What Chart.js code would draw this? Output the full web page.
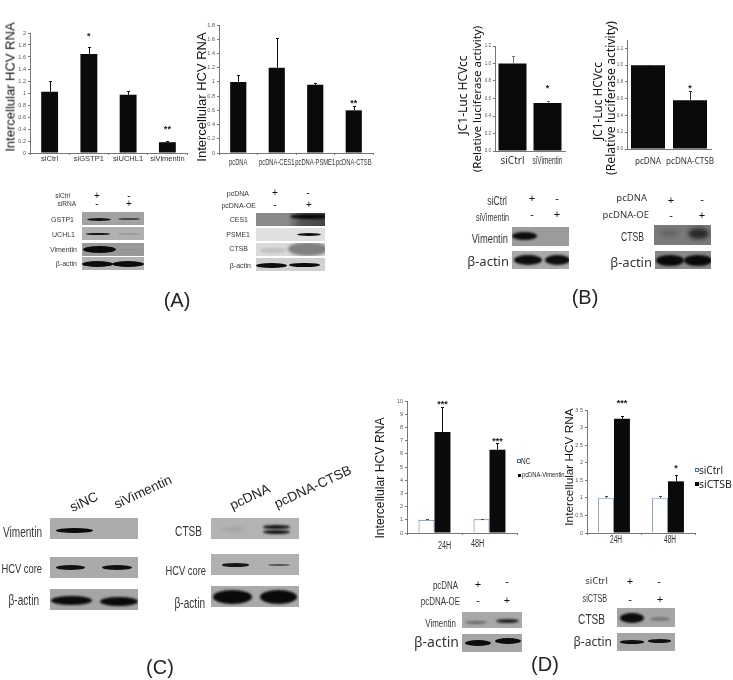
<!DOCTYPE html>
<html><head><meta charset="utf-8">
<script src="https://cdn.jsdelivr.net/npm/chart.js@4"></script>
<style>
html,body{margin:0;padding:0;background:#fff}
#stage{position:relative;width:733px;height:680px;overflow:hidden;background:#fff;filter:blur(.35px)}
#stage canvas{position:absolute}
.t{position:absolute;white-space:nowrap;color:#222;line-height:1;opacity:.99}
.p{position:absolute;overflow:hidden}
.b{position:absolute;border-radius:50%}
.k{position:absolute}
</style></head><body><div id="stage"></div>
<script>
// ---------- data ----------
const a1Cats=["siCtrl","siGSTP1","siUCHL1","siVimentin"];
const a1Vals=[1.02,1.65,0.97,0.18];
const a1Err=[1.2,1.77,1.03,0.2];
const a1Stars=[null,1.97,null,0.42];
const a1Marks=["","*","","**"];
const a1Ticks=[0,0.2,0.4,0.6,0.8,1,1.2,1.4,1.6,1.8,2];

const a2Cats=["pcDNA","pcDNA-CES1","pcDNA-PSME1","pcDNA-CTSB"];
const a2Vals=[1.0,1.2,0.96,0.6];
const a2Err=[1.1,1.62,0.98,0.66];
const a2Stars=[null,null,null,0.72];
const a2Marks=["","","","**"];
const a2Ticks=[0,0.2,0.4,0.6,0.8,1,1.2,1.4,1.6,1.8];

const b1Cats=["siCtrl","siVimentin"];
const b1Vals=[1.0,0.55];
const b1Err=[1.09,0.57];
const b1Stars=[null,0.74];
const b1Marks=["","*"];
const b1Ticks=[0,0.2,0.4,0.6,0.8,1.0,1.2];

const b2Cats=["pcDNA","pcDNA-CTSB"];
const b2Vals=[1.0,0.58];
const b2Err=[1.0,0.695];
const b2Stars=[null,0.75];
const b2Marks=["","*"];
const b2Ticks=[0,0.2,0.4,0.6,0.8,1.0,1.2];

const d1Cats=["24H","48H"];
const d1Series=["NC","pcDNA-Vimentin"];
const d1Nc=[1.0,1.05];
const d1NcErr=[1.08,1.08];
const d1Vim=[7.65,6.3];
const d1VimErr=[9.55,6.85];
const d1Stars=[9.9,7.05];
const d1Marks=["***","***"];
const d1Ticks=[0,1,2,3,4,5,6,7,8,9,10];

const d2Cats=["24H","48H"];
const d2Series=["siCtrl","siCTSB"];
const d2Ctrl=[1.0,1.0];
const d2CtrlErr=[1.04,1.04];
const d2Ctsb=[3.25,1.47];
const d2CtsbErr=[3.32,1.65];
const d2Stars=[3.73,1.9];
const d2Marks=["***","*"];
const d2Ticks=[0,0.5,1,1.5,2,2.5,3,3.5];

// ---------- helpers ----------
const stage=document.getElementById('stage');
const SANS='"Liberation Sans",Arial,sans-serif', NARROW='narrow', NOTO='"Noto Sans",sans-serif';
function text(s,x,y,o={}){
  const e=document.createElement('div');e.className='t';e.textContent=s;
  const nar=o.font===NARROW;
  e.style.fontFamily=nar?SANS:(o.font||SANS);e.style.fontSize=(o.size||8)+'px';
  if(o.color)e.style.color=o.color;
  e.style.left=x+'px';e.style.top=y+'px';
  const tx=o.anchor==='r'?'-100%':o.anchor==='l'?'0':'-50%';
  e.style.transformOrigin=(o.anchor==='r'?'100%':o.anchor==='l'?'0':'50%')+' 50%';
  e.style.transform=`translate(${tx},-50%)`+(o.rot?` rotate(${o.rot}deg)`:'')+(nar?` scaleX(${o.sx||0.72})`:'');
  stage.appendChild(e);return e;
}
function vtitle(s,cx,cy,size,font){return text(s,cx,cy,{size,font,rot:-90,color:'#111'});}
function panel(x,y,w,h,bg,bands){
  const p=document.createElement('div');p.className='p';
  Object.assign(p.style,{left:x+'px',top:y+'px',width:w+'px',height:h+'px',background:bg});
  (bands||[]).forEach(b=>{
    const [bx,cy,bw,bh,col,bl]=b;
    const d=document.createElement('div');d.className='b';
    Object.assign(d.style,{left:(bx-x)+'px',top:(cy-bh/2-y)+'px',width:bw+'px',height:bh+'px',background:col,filter:`blur(${bl==null?0.8:bl}px)`});
    p.appendChild(d);
  });
  stage.appendChild(p);
}
const overlayPlugin={id:'overlay',afterDatasetsDraw(c){
  const ctx=c.ctx,y=c.scales.y,x=c.scales.x;ctx.save();
  c.data.datasets.forEach((ds,i)=>{
    const m=c.getDatasetMeta(i);
    (ds.err||[]).forEach((v,j)=>{
      if(v==null)return;const b=m.data[j],top=y.getPixelForValue(v),base=y.getPixelForValue(ds.data[j]);
      ctx.strokeStyle=ds.errColor||'#111';ctx.lineWidth=1;
      const px=Math.round(b.x)+.5,py=Math.round(top)+.5;
      ctx.beginPath();ctx.moveTo(px,base);ctx.lineTo(px,py);ctx.moveTo(px-1.5,py);ctx.lineTo(px+1.5,py);ctx.stroke();
    });
    (ds.stars||[]).forEach((v,j)=>{
      if(v==null)return;const b=m.data[j];
      ctx.fillStyle='#222';ctx.font='bold 9px '+SANS;ctx.textAlign='center';ctx.textBaseline='middle';
      ctx.fillText(ds.marks[j],b.x,y.getPixelForValue(v)+2);
    });
  });
  // category labels, at the scale's tick positions (horizontally condensed as in the figure)
  const L=c.options.plugins.overlay.lab;
  c.data.labels.forEach((s,i)=>{
    const l=Array.isArray(L)?L[i]:L;
    ctx.save();
    ctx.translate(x.getPixelForTick(i)+(l.dx||0),x.bottom-x.height+(l.dy||9));
    ctx.scale(l.sx||1,1);
    ctx.font=(l.size||8)+'px '+(l.font||SANS);ctx.fillStyle='#333';ctx.textAlign='center';ctx.textBaseline='middle';
    ctx.fillText(s,0,0);ctx.restore();
  });
  ctx.restore();
}};
function chart(o){
  const padL=34,padT=14,padR=6,xH=o.xH||22;
  const cv=document.createElement('canvas');
  const W=o.right-o.x+padL+padR,H=o.bottom-o.top+padT+xH;
  cv.style.left=(o.x-padL)+'px';cv.style.top=(o.top-padT)+'px';
  cv.style.width=W+'px';cv.style.height=H+'px';cv.width=W;cv.height=H;
  stage.appendChild(cv);
  const ax=o.axisColor||'#777';
  new Chart(cv,{type:'bar',plugins:[overlayPlugin],
    data:{labels:o.cats,datasets:o.datasets},
    options:{responsive:false,animation:false,devicePixelRatio:1,
      layout:{padding:{top:padT,right:padR,left:0,bottom:0}},
      plugins:{legend:{display:false},tooltip:{enabled:false},overlay:{lab:o.lab}},
      scales:{
        x:{afterFit(s){s.height=xH;},
          grid:{display:true,drawOnChartArea:false,drawTicks:o.xTick!==false,tickLength:2,color:ax},
          border:{color:ax,width:1},
          ticks:{display:false}},
        y:{min:0,max:o.max,afterFit(s){s.width=padL;},
          afterBuildTicks(s){s.ticks=o.ticks.map(v=>({value:v}));},
          grid:{display:true,drawOnChartArea:false,tickLength:2,color:ax},
          border:{color:ax,width:1},
          ticks:{color:o.yColor||'#555',padding:2,font:{family:SANS,size:o.ySize||5.5},
            callback:v=>o.digits?Number(v).toFixed(o.digits):String(v)}}
      }}});
}
const blk='#0a0a0a';
function single(o,vals,err,stars,marks,bp,errColor){
  o.datasets=[{data:vals,err,stars,marks,backgroundColor:blk,barPercentage:bp,categoryPercentage:1,errColor}];
  chart(o);
}

// ---------- charts ----------
single({x:30,right:187,top:33,bottom:153,max:2,cats:a1Cats,ticks:a1Ticks,lab:{size:7.5,dy:6}},a1Vals,a1Err,a1Stars,a1Marks,0.43);
single({x:219,right:373,top:25,bottom:153,max:1.8,cats:a2Cats,ticks:a2Ticks,lab:{size:8.5,sx:.68,dy:10}},a2Vals,a2Err,a2Stars,a2Marks,0.42);
single({x:495,right:565,top:46,bottom:151,max:1.2,cats:b1Cats,ticks:b1Ticks,digits:1,ySize:4.5,xTick:false,
  lab:[{font:NOTO,size:10,dy:10},{size:10,sx:.65,dy:10}]},b1Vals,b1Err,b1Stars,b1Marks,0.8,'#777');
single({x:627,right:711,top:40,bottom:149,max:1.3,cats:b2Cats,ticks:b2Ticks,digits:1,ySize:4.5,xTick:false,
  lab:{font:NOTO,size:9.5,sx:.85,dy:12}},b2Vals,b2Err,b2Stars,b2Marks,0.81,'#333');

chart({x:407,right:517,top:401,bottom:533,max:10,cats:d1Cats,ticks:d1Ticks,ySize:5.5,
  lab:[{size:10,sx:.72,dx:10,dy:13},{size:10,sx:.72,dx:-12,dy:11}],
  datasets:[
   {label:d1Series[0],data:d1Nc,err:d1NcErr,errColor:'#355',backgroundColor:'#fff',borderColor:'#4f72a6',borderWidth:1,barPercentage:1,categoryPercentage:0.58},
   {label:d1Series[1],data:d1Vim,err:d1VimErr,stars:d1Stars,marks:d1Marks,backgroundColor:blk,barPercentage:1,categoryPercentage:0.58}]});
chart({x:587,right:695,top:410,bottom:533,max:3.5,cats:d2Cats,ticks:d2Ticks,ySize:5.5,
  lab:[{size:10,sx:.65,dx:2,dy:7},{size:10,sx:.65,dx:2,dy:7}],
  datasets:[
   {label:d2Series[0],data:d2Ctrl,err:d2CtrlErr,errColor:'#355',backgroundColor:'#fff',borderColor:'#7f9cc4',borderWidth:1,barPercentage:1,categoryPercentage:0.59},
   {label:d2Series[1],data:d2Ctsb,err:d2CtsbErr,stars:d2Stars,marks:d2Marks,backgroundColor:blk,barPercentage:1,categoryPercentage:0.59}]});

// legends
function swatch(x,y,s,bg,bd){const e=document.createElement('div');e.className='k';
  Object.assign(e.style,{left:x+'px',top:(y-s/2)+'px',width:s+'px',height:s+'px',background:bg,boxSizing:'border-box',border:bd?`1px solid ${bd}`:'none'});stage.appendChild(e);}
swatch(517,461,4,'#fff','#4f72a6');text(d1Series[0],521,461,{anchor:'l',font:NARROW,size:9});
swatch(518,475,3,'#000');text(d1Series[1],522,475,{anchor:'l',font:NARROW,size:8});
swatch(695,470,4,'#fff','#4f72a6');text(d2Series[0],699,470,{anchor:'l',font:NOTO,size:10});
swatch(695,484,4,'#000');text(d2Series[1],699,484,{anchor:'l',font:NOTO,size:10.5});

// axis titles
const HCV='Intercellular HCV RNA',JC='JC1-Luc HCVcc',RL='(Relative luciferase activity)';
vtitle(HCV,10,87,13);
vtitle(HCV,201,97,13);
vtitle(JC,463,95,12,NOTO);
vtitle(RL,477,99,11.6,NOTO);
vtitle(JC,598,101,11.8,NOTO);
vtitle(RL,611,98,12.2,NOTO);
vtitle(HCV,380,478,12.2);
vtitle(HCV,570,467,11.8);

// panel letters
[['(A)',177,300],['(B)',585,297],['(C)',160,667],['(D)',545,664]].forEach(a=>text(a[0],a[1],a[2],{size:20,color:'#222'}));

// ---------- western blots ----------
function sign(rows){rows.forEach(r=>text(r[0],r[1],r[2],{size:r[3]||10,color:'#111'}));}
function rt(rows){rows.forEach(r=>text(r[0],r[1],r[2],{anchor:'r',size:r[3]||7,font:r[4]||SANS,color:'#333'}));}
// A left
rt([['siCtrl',70,196,6.5],['siRNA',76,204,6.5],['GSTP1',74,219],['UCHL1',75,234],['Vimentin',77,249],['β-actin',77,263]]);
sign([['+',97,196],['-',129,196],['-',97,204],['+',129,204]]);
panel(82,212,62,13,'#a2a2a2',[[87,219,24,3,'#111',.6],[118,219,22,2.5,'#444',.6]]);
panel(82,227,62,13,'#b0b0b0',[[86,234,24,2.5,'#151515',.5],[118,234,22,1.5,'#9a9a9a',.6]]);
panel(82,243,62,13,'#999',[[83,249,33,7,'#0a0a0a',.7],[118,249,22,1,'#8a8a8a',.6]]);
panel(82,257,62,13,'#b2b2b2',[[82,264,31,6,'#0c0c0c',.7],[112,264,32,6,'#0c0c0c',.7]]);
// A right
rt([['pcDNA',249,193],['pcDNA-OE',256,205],['CES1',248,219],['PSME1',250,234],['CTSB',248,248],['β-actin',251,265]]);
sign([['+',275,193],['-',308,193],['-',275,205],['+',309,205]]);
panel(256,213,69,13,'linear-gradient(90deg,#8a8a8a,#8a8a8a 45%,#555 65%,#444)',[[290,216,40,5,'#0a0a0a',1]]);
panel(256,228,69,13,'#e0e0e0',[[297,234,24,3,'#111',.5]]);
panel(256,243,69,13,'#dadada',[[260,250,27,5,'#c0c0c0',1],[288,249,40,14,'#808080',1.5]]);
panel(256,258,69,13,'#d0d0d0',[[256,265,31,5,'#0c0c0c',.6],[289,265,31,4.5,'#0c0c0c',.6]]);
// B left
rt([['siCtrl',507,201,12,NARROW],['siVimentin',509,218,10,NARROW],['Vimentin',508,238,13,NARROW],['β-actin',509,261,13,NOTO]]);
sign([['+',532,198,11],['-',557,198,11],['-',532,214,11],['+',557,214,11]]);
panel(512,227,57,19,'#9b9b9b',[[512,236,25,8,'#0c0c0c',.8]]);
panel(512,251,57,18,'#aaa',[[514,260,28,10,'#0e0e0e',.8],[545,260,25,10,'#0e0e0e',.8]]);
// B right
rt([['pcDNA',647,198,9.5,NOTO],['pcDNA-OE',649,215,9.5,NOTO],['CTSB',644,237,12,NARROW],['β-actin',652,262,13,NOTO]]);
sign([['+',671,200,11],['-',702,199,11],['-',671,215,11],['+',702,215,11]]);
panel(654,225,57,20,'#7a7a7a',[[660,233,20,8,'#666',2],[688,233,21,11,'#2a2a2a',2]]);
panel(655,251,56,18,'#888',[[656,260,28,11,'#0a0a0a',.8],[684,260,28,11,'#0a0a0a',.8]]);
// C rotated lane labels
[['siNC',84,502],['siVimentin',143,492],['pcDNA',250,497],['pcDNA-CTSB',313,487]].forEach(a=>text(a[0],a[1],a[2],{size:13.5,rot:-25,color:'#222'}));
// C left
rt([['Vimentin',42,532,14,NARROW],['HCV core',42,568,13,NARROW],['β-actin',39,600,14,NARROW],['CTSB',202,531,14,NARROW],['HCV core',206,570,13,NARROW],['β-actin',205,603,14,NARROW]]);
panel(50,518,88,21,'#acacac',[[56,530,37,5,'#0a0a0a',.6]]);
panel(50,557,88,21,'#aaa',[[56,567,29,5,'#111',.7],[102,567,30,5,'#111',.7]]);
panel(50,589,88,21,'#a5a5a5',[[51,600,41,9,'#0a0a0a',.8],[100,601,38,9,'#0a0a0a',.8]]);
// C right
panel(211,518,88,21,'#b3b3b3',[[222,529,23,5,'#a4a4a4',1.5],[263,527,27,3.5,'#141414',.8],[263,532,27,4,'#141414',.8]]);
panel(211,554,88,21,'#b0b0b0',[[222,565,27,3.5,'#151515',.5],[268,565,22,2,'#555',.6]]);
panel(211,586,88,21,'#aaa',[[213,597,39,14,'#0a0a0a',.8],[260,597,37,14,'#0a0a0a',.8]]);
// D left
rt([['pcDNA',458,585,11,NARROW],['pcDNA-OE',460,601,11,NARROW],['Vimentin',456,623,11,NARROW],['β-actin',459,642,14,NOTO]]);
sign([['+',478,584,11],['-',507,581,11],['-',478,600,11],['+',507,600,11]]);
panel(462,612,60,16,'#a8a8a8',[[465,622,22,3,'#666',.8],[496,621,23,4,'#222',.8]]);
panel(462,634,60,18,'#a5a5a5',[[465,643,26,6,'#0c0c0c',.7],[495,641,26,6,'#0c0c0c',.7]]);
// D right
rt([['siCtrl',608,581,9.5,NOTO],['siCTSB',607,599,10,NARROW],['CTSB',605,619,14,NARROW],['β-actin',612,642,12,NOTO]]);
sign([['+',630,581,11],['-',659,581,11],['-',630,599,11],['+',660,599,11]]);
panel(617,608,58,19,'#a5a5a5',[[620,618,24,10,'#0a0a0a',1],[650,619,20,4,'#777',1]]);
panel(617,633,58,18,'#a5a5a5',[[620,642,24,3.5,'#111',.6],[648,641,23,3.5,'#111',.6]]);
</script></body></html>
